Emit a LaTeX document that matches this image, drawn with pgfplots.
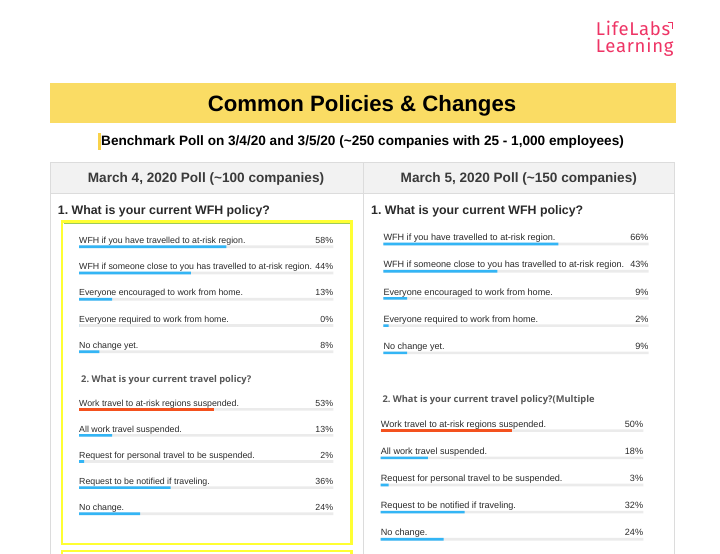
\documentclass[border=0pt]{standalone}
\usepackage{fontspec}
\setmainfont{Liberation Sans}
\newfontfamily\osans{Open Sans}
\newfontfamily\fira[LetterSpace=4]{Fira Sans}
\usepackage{pgfplots}
\usepackage{pgfplotstable}
\pgfplotsset{compat=1.18}
\frenchspacing

\definecolor{banner}{HTML}{FADC64}
\definecolor{subbar}{HTML}{F9D24A}
\definecolor{hdrfill}{HTML}{F2F2F2}
\definecolor{border}{HTML}{DCDCDC}
\definecolor{yframe}{HTML}{FFFF33}
\definecolor{greenline}{HTML}{9CCB5B}
\definecolor{barblue}{HTML}{33B5F5}
\definecolor{barorange}{HTML}{F4511E}
\definecolor{track}{HTML}{EBEBEB}
\definecolor{txt}{HTML}{2A2A2A}
\definecolor{hdrtxt}{HTML}{3A3A3A}
\definecolor{q2txt}{HTML}{555555}
\definecolor{logo}{HTML}{EE3465}

\newcommand\lab{\fontsize{8.8}{10}\selectfont}
\newcommand\labr{\fontsize{9.1}{10}\selectfont}

% percentages per answer, y = row
\pgfplotstableread[col sep=comma,row sep=\\]{
y,v,full,label\\
1,58,100,WFH if you have travelled to at-risk region.\\
2,44,100,WFH if someone close to you has travelled to at-risk region.\\
3,13,100,Everyone encouraged to work from home.\\
4,0,100,Everyone required to work from home.\\
5,8,100,No change yet.\\
}\lwfh
\pgfplotstableread[col sep=comma,row sep=\\]{
y,v,full,label\\
1,53,100,Work travel to at-risk regions suspended.\\
2,13,100,All work travel suspended.\\
3,2,100,Request for personal travel to be suspended.\\
4,36,100,Request to be notified if traveling.\\
5,24,100,No change.\\
}\ltravel
\pgfplotstableread[col sep=comma,row sep=\\]{
y,v,full,label\\
1,66,100,WFH if you have travelled to at-risk region.\\
2,43,100,WFH if someone close to you has travelled to at-risk region.\\
3,9,100,Everyone encouraged to work from home.\\
4,2,100,Everyone required to work from home.\\
5,9,100,No change yet.\\
}\rwfh
\pgfplotstableread[col sep=comma,row sep=\\]{
y,v,full,label\\
1,50,100,Work travel to at-risk regions suspended.\\
2,18,100,All work travel suspended.\\
3,3,100,Request for personal travel to be suspended.\\
4,32,100,Request to be notified if traveling.\\
5,24,100,No change.\\
}\rtravel

\pgfplotsset{
  /pgf/number format/assume math mode=true,
  grp/.style={hide axis, scale only axis, xmin=0, xmax=100,
    ymin=0.5, ymax=5.5, y dir=reverse, clip=false, anchor=north west},
  trk/.style={xbar, bar width=2.6pt, bar shift=0pt, fill=track, draw=none},
  bl/.style={xbar, bar width=2.6pt, bar shift=0pt, fill=barblue, draw=none},
  orn/.style={xbar, bar width=2.6pt, bar shift=0pt, fill=barorange, draw=none},
  labs/.style={draw=none, nodes near coords, point meta=explicit symbolic,
    nodes near coords style={anchor=base west, yshift=3.3pt, inner sep=0pt,
      font=#1, text=txt}},
  labs/.default=\lab,
  pcts/.style={draw=none, nodes near coords={\pgfmathprintnumber{\pgfplotspointmeta}\%},
    point meta=explicit,
    nodes near coords style={anchor=base east, yshift=3.3pt, inner sep=0pt,
      font=#1, text=txt}},
  pcts/.default=\lab,
}

\begin{document}
\begin{tikzpicture}
\path[use as bounding box] (0,0) rectangle (720pt,-554pt);
\begin{scope}[x=1pt,y=-1pt]
  % logo
  \node[anchor=base west, inner sep=0pt, text=logo, font=\fira\fontsize{18.5}{19}\selectfont] at (595.7,35) {LifeLabs};
  \node[anchor=base west, inner sep=0pt, text=logo, font=\fira\fontsize{18.5}{19}\selectfont] at (595.7,52.7) {Learning};
  \draw[logo, line width=1.4pt] (667.8,22.7) -- (672.3,22.7) -- (672.3,28.6);
  % banner
  \fill[banner] (50,83.3) rectangle (676,122.7);
  \node[anchor=base, inner sep=0pt, font=\bfseries\fontsize{22.2}{24}\selectfont] at (362,111) {Common Policies \& Changes};
  \fill[subbar] (97.5,133) rectangle (100.5,150);
  \node[anchor=base west, inner sep=0pt, font=\bfseries\fontsize{13.6}{15}\selectfont] at (101,145.8)
    {Benchmark Poll on 3/4/20 and 3/5/20 (\textasciitilde 250 companies with 25 - 1,000 employees)};
  % table
  \fill[hdrfill] (50.7,162.7) rectangle (674,193.3);
  \draw[border, line width=0.9pt] (50.7,560) -- (50.7,162.7) -- (674,162.7) -- (674,560);
  \draw[border, line width=0.9pt] (50.7,193.3) -- (674,193.3);
  \draw[border, line width=0.9pt] (363.5,162.7) -- (363.5,560);
  \node[anchor=base, inner sep=0pt, text=hdrtxt, font=\bfseries\fontsize{13.6}{15}\selectfont] at (206,182.2) {March 4, 2020 Poll (\textasciitilde 100 companies)};
  \node[anchor=base, inner sep=0pt, text=hdrtxt, font=\bfseries\fontsize{13.6}{15}\selectfont] at (518.8,182.2) {March 5, 2020 Poll (\textasciitilde 150 companies)};
  \node[anchor=base west, inner sep=0pt, text=txt, font=\bfseries\fontsize{12.35}{14}\selectfont] at (57.7,214.4) {1. What is your current WFH policy?};
  \node[anchor=base west, inner sep=0pt, text=txt, font=\bfseries\fontsize{12.35}{14}\selectfont] at (371,214.4) {1. What is your current WFH policy?};
  % yellow frames
  \draw[yframe, line width=2.5pt] (62.2,221.5) rectangle (351.5,544);
  \draw[yframe, line width=2.5pt] (62.2,551.2) rectangle (351.5,600);
  \draw[greenline, line width=0.9pt] (63.5,223) -- (350.2,223);
  % question 2 headings
  \node[anchor=base west, inner sep=0pt, text=q2txt, font=\osans\bfseries\fontsize{9.3}{11}\selectfont] at (81,382.8) {2. What is your current travel policy?};
  \node[anchor=base west, inner sep=0pt, text=q2txt, font=\osans\bfseries\fontsize{9.3}{11}\selectfont] at (382.3,402.8) {2. What is your current travel policy?(Multiple};
\end{scope}

% left: WFH
\begin{axis}[grp, at={(79pt,-233.6pt)}, width=254.3pt, height=131.25pt]
  \addplot[trk] table[x=full, y=y] {\lwfh};
  \addplot[bl] table[x=v, y=y] {\lwfh};
  \addplot[labs] table[x expr=0, y=y, meta=label] {\lwfh};
  \addplot[pcts] table[x=full, y=y, meta=v] {\lwfh};
\end{axis}
% left: travel
\begin{axis}[grp, at={(79pt,-396.25pt)}, width=254.3pt, height=130.5pt]
  \addplot[trk] table[x=full, y=y] {\ltravel};
  \addplot[orn, skip coords between index={1}{5}] table[x=v, y=y] {\ltravel};
  \addplot[bl, skip coords between index={0}{1}] table[x=v, y=y] {\ltravel};
  \addplot[labs] table[x expr=0, y=y, meta=label] {\ltravel};
  \addplot[pcts] table[x=full, y=y, meta=v] {\ltravel};
\end{axis}
% right: WFH
\begin{axis}[grp, at={(383.3pt,-230.4pt)}, width=265.4pt, height=136pt]
  \addplot[trk] table[x=full, y=y] {\rwfh};
  \addplot[bl] table[x=v, y=y] {\rwfh};
  \addplot[labs=\labr] table[x expr=0, y=y, meta=label] {\rwfh};
  \addplot[pcts=\labr] table[x=full, y=y, meta=v] {\rwfh};
\end{axis}
% right: travel
\begin{axis}[grp, at={(380.7pt,-417.1pt)}, width=262.6pt, height=135.75pt]
  \addplot[trk] table[x=full, y=y] {\rtravel};
  \addplot[orn, skip coords between index={1}{5}] table[x=v, y=y] {\rtravel};
  \addplot[bl, skip coords between index={0}{1}] table[x=v, y=y] {\rtravel};
  \addplot[labs=\labr] table[x expr=0, y=y, meta=label] {\rtravel};
  \addplot[pcts=\labr] table[x=full, y=y, meta=v] {\rtravel};
\end{axis}
\end{tikzpicture}
\end{document}
